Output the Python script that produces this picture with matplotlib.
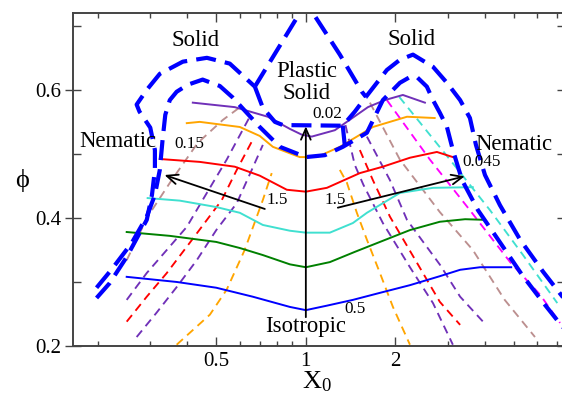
import matplotlib
matplotlib.use("Agg")
import matplotlib.pyplot as plt
from matplotlib.ticker import FixedLocator, NullFormatter, FixedFormatter

plt.rcParams['font.family'] = ['Liberation Serif', 'DejaVu Serif']
plt.rcParams['mathtext.fontset'] = 'custom'
plt.rcParams['mathtext.rm'] = 'Liberation Serif'
plt.rcParams['mathtext.it'] = 'Liberation Serif:italic'

# ---- solid phi(X0) curves ----
blue_x = [0.25, 0.368, 0.5, 0.663, 0.884, 1.0, 1.177, 1.439, 1.774, 2.238, 2.82, 3.30, 3.85, 4.90]
blue_y = [0.308, 0.300, 0.291, 0.277, 0.261, 0.256, 0.263, 0.272, 0.283, 0.295, 0.309, 0.319, 0.323, 0.323]
green_x = [0.25, 0.349, 0.5, 0.60, 0.717, 0.884, 1.0, 1.204, 1.461, 1.774, 2.238, 2.82, 3.43, 4.0]
green_y = [0.378, 0.372, 0.3625, 0.353, 0.342, 0.3275, 0.323, 0.331, 0.347, 0.3625, 0.381, 0.394, 0.398, 0.397]
cyan_x = [0.294, 0.377, 0.5, 0.60, 0.717, 0.884, 1.0, 1.204, 1.439, 1.604, 2.071, 2.675, 3.64]
cyan_y = [0.431, 0.427, 0.417, 0.408, 0.389, 0.380, 0.377, 0.377, 0.392, 0.408, 0.439, 0.447, 0.448]
red_x = [0.323, 0.44, 0.577, 0.70, 0.863, 1.0, 1.177, 1.519, 1.815, 2.238, 2.757, 3.12]
red_y = [0.492, 0.4875, 0.480, 0.466, 0.444, 0.441, 0.447, 0.470, 0.480, 0.494, 0.503, 0.495]
orange_x = [0.398, 0.44, 0.60, 0.70, 0.775, 0.954, 1.089, 1.301, 1.680, 2.187, 2.71]
orange_y = [0.548, 0.550, 0.542, 0.528, 0.511, 0.495, 0.495, 0.511, 0.542, 0.558, 0.556]
purple_x = [0.417, 0.577, 0.745, 0.884, 0.969, 1.047, 1.252, 1.617, 1.843, 2.119, 2.513]
purple_y = [0.580, 0.573, 0.558, 0.539, 0.530, 0.527, 0.537, 0.573, 0.584, 0.592, 0.580]

# ---- thin dashed curves, left branch ----
brownL_x = [0.25, 0.294, 0.354, 0.433, 0.526, 0.609]
brownL_y = [0.334, 0.402, 0.459, 0.517, 0.553, 0.575]
purpleAL_x = [0.25, 0.292, 0.341, 0.398, 0.45, 0.542, 0.648]
purpleAL_y = [0.272, 0.314, 0.350, 0.386, 0.428, 0.491, 0.558]
redL_x = [0.25, 0.292, 0.341, 0.407, 0.522, 0.586, 0.663]
redL_y = [0.238, 0.277, 0.314, 0.361, 0.428, 0.475, 0.522]
purpleBL_x = [0.270, 0.315, 0.368, 0.430, 0.50, 0.586, 0.658, 0.717]
purpleBL_y = [0.214, 0.252, 0.292, 0.334, 0.381, 0.423, 0.475, 0.514]
orangeL_x = [0.368, 0.476, 0.542, 0.623, 0.717, 0.768]
orangeL_y = [0.202, 0.249, 0.288, 0.350, 0.428, 0.470]

# ---- thin dashed curves, right branch ----
orangeR_x = [1.301, 1.374, 1.484, 1.604, 1.774, 1.962, 2.238]
orangeR_y = [0.475, 0.455, 0.408, 0.366, 0.314, 0.261, 0.202]
purpleAR_x = [1.359, 1.46, 1.56, 1.815, 2.238, 2.675, 3.12]
purpleAR_y = [0.545, 0.483, 0.452, 0.392, 0.323, 0.267, 0.202]
redR_x = [1.519, 1.68, 1.917, 2.82, 3.30]
redR_y = [0.506, 0.459, 0.402, 0.269, 0.233]
purpleBR_x = [1.604, 1.917, 2.187, 2.822, 3.30, 3.94]
purpleBR_y = [0.527, 0.459, 0.397, 0.327, 0.277, 0.238]
brownR_x = [1.642, 2.071, 2.822, 3.64, 4.66, 5.89]
brownR_y = [0.580, 0.491, 0.409, 0.350, 0.272, 0.214]
magentaR_x = [1.872, 2.613, 3.56, 4.86, 6.13, 7.15]
magentaR_y = [0.584, 0.491, 0.412, 0.331, 0.280, 0.236]
cyanR_x = [2.06, 3.05, 4.16, 5.37, 7.0]
cyanR_y = [0.589, 0.491, 0.412, 0.342, 0.267]

# ---- thick dashed phase boundaries ----
outerL_x = [0.198, 0.219, 0.25, 0.292, 0.304, 0.311, 0.311, 0.30, 0.276, 0.270, 0.292, 0.323, 0.386, 0.465, 0.555, 0.674]
outerL_y = [0.275, 0.298, 0.339, 0.397, 0.436, 0.475, 0.506, 0.541, 0.566, 0.577, 0.600, 0.625, 0.644, 0.650, 0.641, 0.605]
inner_x = [0.198, 0.222, 0.26, 0.292, 0.311, 0.323, 0.330, 0.337, 0.349, 0.368, 0.401, 0.45, 0.514, 0.568,
           0.70, 0.818, 1.0, 1.159, 1.331, 1.604, 1.815, 2.071, 2.238, 2.362, 2.551, 2.675, 2.822, 2.98,
           3.12, 3.35, 3.79, 4.43, 5.33, 6.37, 7.43]
inner_y = [0.291, 0.319, 0.361, 0.402, 0.436, 0.475, 0.522, 0.561, 0.584, 0.597, 0.608, 0.616, 0.606, 0.588,
           0.542, 0.511, 0.495, 0.498, 0.511, 0.533, 0.584, 0.611, 0.620, 0.620, 0.605, 0.584, 0.564, 0.542,
           0.506, 0.459, 0.412, 0.366, 0.311, 0.264, 0.225]
plastic_x = [0.674, 0.954, 1.0, 1.056, 1.301, 1.543, 1.592]
plastic_y = [0.605, 0.720, 0.737, 0.720, 0.655, 0.597, 0.589]
outerR_x = [1.592, 1.872, 2.071, 2.291, 2.675, 2.98, 3.30, 3.56, 3.73, 4.0, 4.49, 5.25, 6.27, 7.43]
outerR_y = [0.589, 0.631, 0.647, 0.655, 0.636, 0.611, 0.584, 0.556, 0.514, 0.467, 0.420, 0.366, 0.316, 0.272]
ledge_x = [0.674, 0.717, 0.787, 0.837, 1.331, 1.461, 1.592]
ledge_y = [0.605, 0.572, 0.550, 0.545, 0.544, 0.566, 0.589]
ledge_drop_x = [1.331, 1.353]
ledge_drop_y = [0.544, 0.511]

fig = plt.figure(figsize=(5.62, 4.01), dpi=100)
ax = fig.add_axes([73 / 562, 55 / 401, (565 - 73) / 562, (346 - 13) / 401])
ax.set_xscale('log')

thin = dict(lw=1.35, linestyle=(0, (4.5, 3)))
for xs, ys, c in [(brownL_x, brownL_y, '#bc8f8f'), (purpleAL_x, purpleAL_y, '#7030b8'),
                  (redL_x, redL_y, '#ff0000'), (purpleBL_x, purpleBL_y, '#7030b8'),
                  (orangeL_x, orangeL_y, '#ffa500'), (orangeR_x, orangeR_y, '#ffa500'),
                  (purpleAR_x, purpleAR_y, '#7030b8'), (redR_x, redR_y, '#ff0000'),
                  (purpleBR_x, purpleBR_y, '#7030b8'), (brownR_x, brownR_y, '#bc8f8f'),
                  (magentaR_x, magentaR_y, '#ff00ff'), (cyanR_x, cyanR_y, '#40e0d0')]:
    ax.plot(xs, ys, color=c, **thin)

for xs, ys, c in [(blue_x, blue_y, '#0000ff'), (green_x, green_y, '#008000'),
                  (cyan_x, cyan_y, '#40e0d0'), (red_x, red_y, '#ff0000'),
                  (orange_x, orange_y, '#ffa500'), (purple_x, purple_y, '#7030b8')]:
    ax.plot(xs, ys, color=c, lw=1.4)

thick = dict(color='#0000ff', lw=3.0, linestyle=(0, (4.8, 2.2)))
for xs, ys in [(outerL_x, outerL_y), (inner_x, inner_y), (plastic_x, plastic_y),
               (outerR_x, outerR_y), (ledge_x, ledge_y), (ledge_drop_x, ledge_drop_y)]:
    ax.plot(xs, ys, **thick)

arrow = dict(arrowstyle='->,head_length=0.8,head_width=0.35', color='black', lw=1.3,
             shrinkA=0, shrinkB=0)
ax.annotate('', xy=(1.0, 0.543), xytext=(1.0, 0.245), arrowprops=arrow)
ax.annotate('', xy=(0.335, 0.467), xytext=(0.728, 0.414), arrowprops=arrow)
ax.annotate('', xy=(3.42, 0.465), xytext=(1.281, 0.416), arrowprops=arrow)

big = 16.4
small = 12.3
ax.text(0.427, 0.677, 'Solid', fontsize=big, ha='center', va='center')
ax.text(2.264, 0.678, 'Solid', fontsize=big, ha='center', va='center')
ax.text(1.008, 0.611, 'Plastic\nSolid', fontsize=big, ha='center', va='center', linespacing=1.05)
ax.text(0.234, 0.520, 'Nematic', fontsize=big, ha='center', va='center')
ax.text(5.01, 0.515, 'Nematic', fontsize=big, ha='center', va='center')
ax.text(1.0, 0.230, 'Isotropic', fontsize=big, ha='center', va='center')
ax.text(0.407, 0.515, '0.15', fontsize=small, ha='center', va='center')
ax.text(3.91, 0.487, '0.045', fontsize=small, ha='center', va='center')
ax.text(1.177, 0.562, '0.02', fontsize=small, ha='center', va='center')
ax.text(0.802, 0.428, '1.5', fontsize=small, ha='center', va='center')
ax.text(1.252, 0.428, '1.5', fontsize=small, ha='center', va='center')
ax.text(1.46, 0.258, '0.5', fontsize=small, ha='center', va='center')

ax.set_xlim(0.165, 7.43)
ax.set_ylim(0.2, 0.72)
ax.xaxis.set_major_locator(FixedLocator([0.5, 1, 2]))
ax.xaxis.set_major_formatter(FixedFormatter(['0.5', '1', '2']))
ax.xaxis.set_minor_locator(FixedLocator([0.2, 0.3, 0.4, 0.6, 0.7, 0.8, 0.9, 3, 4, 5, 6, 7]))
ax.xaxis.set_minor_formatter(NullFormatter())
ax.yaxis.set_major_locator(FixedLocator([0.2, 0.4, 0.6]))
ax.yaxis.set_major_formatter(FixedFormatter(['0.2', '0.4', '0.6']))
ax.yaxis.set_minor_locator(FixedLocator([0.3, 0.5, 0.7]))

ax.tick_params(axis='x', which='major', direction='in', length=6.5, width=1.0, top=True,
               labelsize=15, pad=4, color='#444444')
ax.tick_params(axis='x', which='minor', direction='in', length=3.5, width=1.0, top=True,
               color='#444444')
ax.tick_params(axis='y', which='major', direction='inout', length=11, width=1.0, right=True,
               labelsize=15, pad=3, color='#444444')
ax.tick_params(axis='y', which='minor', direction='in', length=6, width=1.0, right=True,
               color='#444444')
for s in ax.spines.values():
    s.set_color('#444444')
    s.set_linewidth(1.4)

fig.text(317 / 562, 1 - 388 / 401, 'X$_0$', fontsize=19, ha='center', va='baseline')
fig.text(22 / 562, 1 - 181 / 401, 'ϕ', fontsize=19, ha='center', va='center')

fig.savefig('out.png', dpi=100)
